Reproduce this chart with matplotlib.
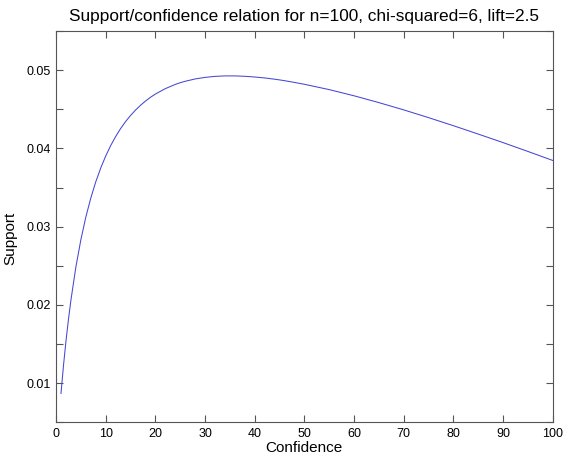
import matplotlib
matplotlib.use("Agg")
import matplotlib.pyplot as plt
from matplotlib.ticker import MultipleLocator

plt.rcParams['font.family'] = ['Liberation Sans', 'DejaVu Sans']

# Confidence (%) and support
confidence = [1, 1.5, 2, 2.5, 3, 4, 5, 6, 7, 8, 9, 10, 11, 12, 13, 14, 15,
              16, 17, 18, 19, 20, 22, 24, 25, 26, 28, 30, 32, 34, 35, 36, 38,
              40, 42, 44, 45, 46, 48, 50, 55, 60, 65, 70, 75, 80, 85, 90, 95,
              100]
support = [0.00869, 0.01223, 0.01536, 0.01813, 0.02061, 0.02485, 0.02832,
           0.03122, 0.03365, 0.03572, 0.03749, 0.03902, 0.04035, 0.04151,
           0.04253, 0.04342, 0.04420, 0.04489, 0.04550, 0.04604, 0.04652,
           0.04694, 0.04763, 0.04817, 0.04839, 0.04857, 0.04887, 0.04907,
           0.04920, 0.04926, 0.04926, 0.04926, 0.04921, 0.04912, 0.04900,
           0.04884, 0.04875, 0.04865, 0.04843, 0.04819, 0.04751, 0.04672,
           0.04585, 0.04492, 0.04393, 0.04290, 0.04183, 0.04074, 0.03961,
           0.03846]

fig = plt.figure(figsize=(5.63, 4.61), dpi=100)
ax = fig.add_axes([0.0995, 0.0839, 0.8822, 0.8489])

ax.plot(confidence, support, color='#4646d4', linewidth=0.75)

ax.set_xlim(0, 100)
ax.set_ylim(0.005, 0.055)
ax.xaxis.set_major_locator(MultipleLocator(10))
ax.yaxis.set_minor_locator(MultipleLocator(0.005))
ax.set_yticks([0.01, 0.02, 0.03, 0.04, 0.05])

for s in ax.spines.values():
    s.set_color('#555555')
ax.tick_params(which='both', direction='in', top=True, right=True,
               length=5, width=0.8, color='#555555', labelsize=9, pad=4)

ax.set_title('Support/confidence relation for n=100, chi-squared=6, lift=2.5',
             fontsize=12.4, pad=7)
ax.set_xlabel('Confidence', fontsize=11, labelpad=1)
ax.set_ylabel('Support', fontsize=11)
ax.yaxis.set_label_coords(-0.0775, 0.47)

fig.savefig('out.png', dpi=100)
